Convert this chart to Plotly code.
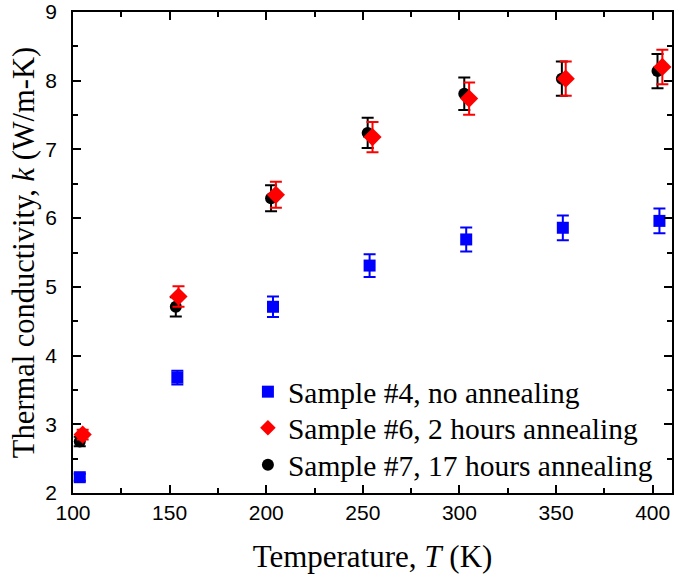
import plotly.graph_objects as go

# Sample #4, no annealing
t4 = [103.5, 154, 203.5, 253.5, 303.5, 353.5, 403.5]
k4 = [2.23, 3.68, 4.71, 5.31, 5.69, 5.86, 5.96]
e4 = [0.05, 0.1, 0.15, 0.165, 0.175, 0.18, 0.18]

# Sample #6, 2 hours annealing
t6 = [105, 154.6, 205, 255, 305, 355, 405]
k6 = [2.85, 4.86, 6.34, 7.18, 7.74, 8.03, 8.2]
e6 = [0.07, 0.15, 0.19, 0.22, 0.235, 0.25, 0.25]

# Sample #7, 17 hours annealing
t7 = [103.5, 153.2, 202.5, 252.5, 302.5, 353, 402.5]
k7 = [2.75, 4.71, 6.29, 7.24, 7.81, 8.03, 8.14]
e7 = [0.07, 0.14, 0.19, 0.22, 0.235, 0.25, 0.25]

names = ["Sample #4, no annealing", "Sample #6, 2 hours annealing",
         "Sample #7, 17 hours annealing"]

fig = go.Figure()
fig.add_trace(go.Scatter(
    x=t4, y=k4, mode="markers", name=names[0], legend="legend", showlegend=True,
    marker=dict(symbol="square", size=12, color="#0000ff"),
    error_y=dict(type="data", array=e4, color="#0000ff", thickness=2, width=6)))
fig.add_trace(go.Scatter(
    x=t7, y=k7, mode="markers", name=names[2], legend="legend3", showlegend=True,
    marker=dict(symbol="circle", size=12, color="#000000"),
    error_y=dict(type="data", array=e7, color="#000000", thickness=2, width=6)))
fig.add_trace(go.Scatter(
    x=t6, y=k6, mode="markers", name=names[1], legend="legend2", showlegend=True,
    marker=dict(symbol="diamond", size=14, color="#ff0000"),
    error_y=dict(type="data", array=e6, color="#ff0000", thickness=2, width=6)))

axis_common = dict(
    showline=True, linecolor="black", linewidth=1.5, mirror="ticks",
    ticks="inside", ticklen=8, tickwidth=1.5, tickcolor="black",
    showgrid=False, zeroline=False, automargin=False,
    tickfont=dict(family="Liberation Sans, Arial", size=21, color="black"),
)

fig.update_xaxes(
    range=[100, 410], tickvals=[100, 150, 200, 250, 300, 350, 400],
    minor=dict(dtick=25, tick0=100, ticks="inside", ticklen=5, tickwidth=1.5, tickcolor="black"),
    title=dict(text="Temperature, <i>T</i> (K)",
               font=dict(family="Liberation Serif, Times New Roman", size=31, color="black"),
               standoff=22),
    **axis_common)
fig.update_yaxes(
    range=[2, 9], dtick=1, ticklabelstandoff=10,
    minor=dict(dtick=0.5, tick0=2, ticks="inside", ticklen=5, tickwidth=1.5, tickcolor="black"),
    title=dict(text="Thermal conductivity, <i>k</i> (W/m-K)",
               font=dict(family="Liberation Serif, Times New Roman", size=30.5, color="black"),
               standoff=2),
    **axis_common)

leg_font = dict(family="Liberation Serif, Times New Roman", size=29.5, color="black")
leg_common = dict(x=0.292, xanchor="left", yanchor="middle",
                  bgcolor="rgba(0,0,0,0)", font=leg_font, itemsizing="constant")

fig.update_layout(
    width=674, height=583,
    showlegend=True,
    margin=dict(l=73, r=2, t=12, b=90),
    plot_bgcolor="white", paper_bgcolor="white",
    legend=dict(y=0.210, **leg_common),
    legend2=dict(y=0.135, **leg_common),
    legend3=dict(y=0.058, **leg_common),
)

fig.write_html(
    "out.html",
    config={"displayModeBar": False},
    post_script="document.body.style.margin='0';document.body.style.overflow='hidden';",
)
